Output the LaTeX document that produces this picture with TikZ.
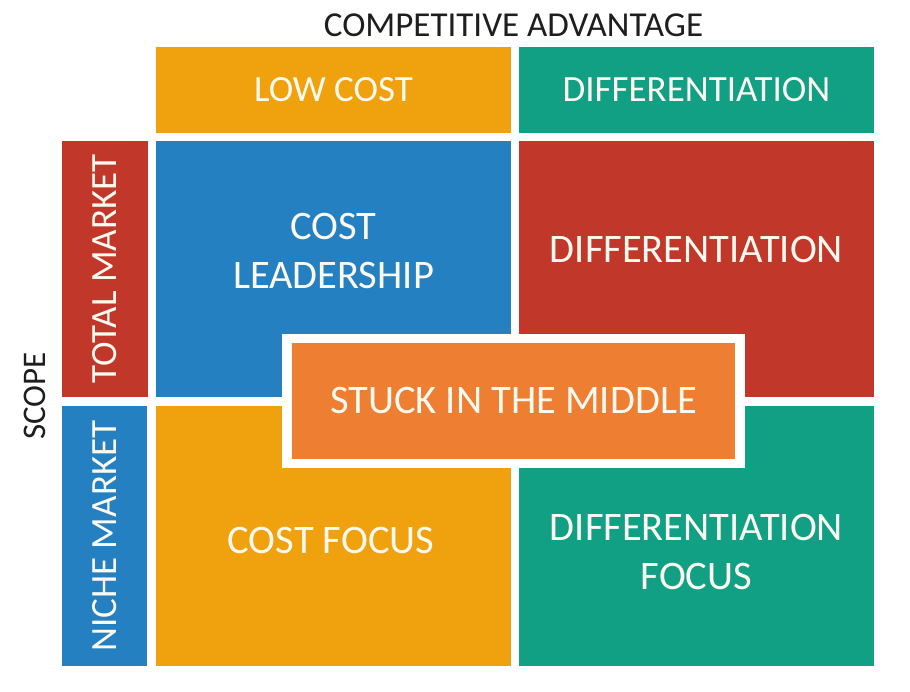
\documentclass[tikz,border=0pt]{standalone}
\usepackage{fontspec}
\setmainfont{Carlito}
\definecolor{cOrange}{RGB}{240,162,14}
\definecolor{cTeal}{RGB}{18,160,133}
\definecolor{cBlue}{RGB}{36,128,192}
\definecolor{cRed}{RGB}{193,56,42}
\definecolor{cStuck}{RGB}{237,126,50}
\definecolor{cText}{RGB}{252,250,240}
\definecolor{cDark}{RGB}{30,30,30}
\begin{document}
\begin{tikzpicture}[x=1pt,y=-1pt,
  box/.style={rectangle,inner sep=0pt,outer sep=0pt,draw=none},
  lbl/.style={text=cText,align=center,inner sep=0pt},
  big/.style={lbl,font=\fontsize{40.5}{48.5}\selectfont},
  head/.style={lbl,font=\fontsize{37}{44}\selectfont},
  axis/.style={text=cDark,inner sep=0pt}]
\useasboundingbox (0,0) rectangle (910,691);
\fill[white] (0,0) rectangle (910,691);
% header row
\node[box,fill=cOrange,minimum width=355pt,minimum height=86pt] (lowcost) at (333.5,90) {};
\node[box,fill=cTeal,minimum width=355pt,minimum height=86pt] (diffhead) at (696.5,90) {};
% side column
\node[box,fill=cRed,minimum width=86pt,minimum height=256pt] (total) at (105,269) {};
\node[box,fill=cBlue,minimum width=85pt,minimum height=260pt] (niche) at (104.5,536) {};
% main grid
\node[box,fill=cBlue,minimum width=355pt,minimum height=256pt] (costlead) at (333.5,269) {};
\node[box,fill=cRed,minimum width=355pt,minimum height=256pt] (diff) at (696.5,269) {};
\node[box,fill=cOrange,minimum width=355pt,minimum height=260pt] (costfocus) at (333.5,536) {};
\node[box,fill=cTeal,minimum width=355pt,minimum height=260pt] (difffocus) at (696.5,536) {};
% stuck in the middle
\node[box,fill=cStuck,draw=white,line width=9.5pt,minimum width=453pt,minimum height=125pt,
      big] (stuck) at (513.5,401) {STUCK IN THE MIDDLE};
% labels
\node[axis,font=\fontsize{35}{40}\selectfont] (compadv) at (513.5,25) {COMPETITIVE ADVANTAGE};
\node[axis,font=\fontsize{33}{40}\selectfont,rotate=90] (scope) at (35,396) {SCOPE};
\node[head] (tlow) at (lowcost.center) {LOW COST};
\node[head] (tdiffh) at (diffhead.center) {DIFFERENTIATION};
\node[head,rotate=90] (ttotal) at (total.center) {TOTAL MARKET};
\node[head,rotate=90] (tniche) at (niche.center) {NICHE MARKET};
\node[big] (tcostlead) at (333.5,251) {COST\\LEADERSHIP};
\node[big] (tdiff) at (696.5,249) {DIFFERENTIATION};
\node[big] (tcostfocus) at (331,540) {COST FOCUS};
\node[big] (tdifffocus) at (696.5,552) {DIFFERENTIATION\\FOCUS};
\end{tikzpicture}
\end{document}
